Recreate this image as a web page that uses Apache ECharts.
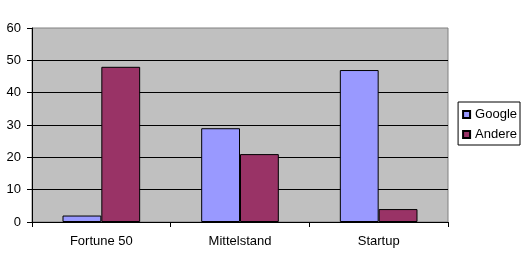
<!DOCTYPE html>
<html><head><meta charset="utf-8">
<script src="https://cdn.jsdelivr.net/npm/echarts@6/dist/echarts.min.js"></script>
<style>html,body{margin:0;padding:0;background:#fff}#c{width:528px;height:265px}</style>
</head><body><div id="c"></div>
<script>
const categories = ['Fortune 50', 'Mittelstand', 'Startup'];
const google = [2, 29, 47];
const andere = [48, 21, 4];
const yTicks = { min: 0, max: 60, interval: 10 };

const chart = echarts.init(document.getElementById('c'), null, { renderer: 'canvas' });
const font = 'Liberation Sans, Arial, sans-serif';
chart.setOption({
  animation: false,
  textStyle: { fontFamily: font },
  grid: { left: 32, right: 80, top: 28, bottom: 43, show: true, backgroundColor: '#C0C0C0', borderColor: '#808080', borderWidth: 1 },
  legend: {
    orient: 'vertical', right: 8, top: 102,
    data: ['Google', 'Andere'],
    itemWidth: 7, itemHeight: 7, itemGap: 7,
    padding: [6, 3, 4, 4],
    borderColor: '#000', borderWidth: 1,
    textStyle: { fontFamily: font, fontSize: 13, color: '#000' },
    icon: 'rect'
  },
  xAxis: {
    type: 'category', data: categories,
    axisLine: { lineStyle: { color: '#000' } },
    axisTick: { show: true, lineStyle: { color: '#000' }, length: 5 },
    axisLabel: { color: '#000', fontSize: 13, margin: 13, fontFamily: font }
  },
  yAxis: {
    type: 'value', min: yTicks.min, max: yTicks.max, interval: yTicks.interval,
    axisLine: { show: true, lineStyle: { color: '#000' } },
    axisTick: { show: true, lineStyle: { color: '#000' }, length: 5 },
    axisLabel: { color: '#000', fontSize: 13, margin: 11, fontFamily: font },
    splitLine: { show: true, showMaxLine: false, lineStyle: { color: '#000', width: 1 } }
  },
  series: [
    { name: 'Google', type: 'bar', data: google, barGap: '0%', barCategoryGap: '44%',
      itemStyle: { color: '#9999FF', borderColor: '#000', borderWidth: 1 } },
    { name: 'Andere', type: 'bar', data: andere,
      itemStyle: { color: '#993366', borderColor: '#000', borderWidth: 1 } }
  ]
});
</script></body></html>
